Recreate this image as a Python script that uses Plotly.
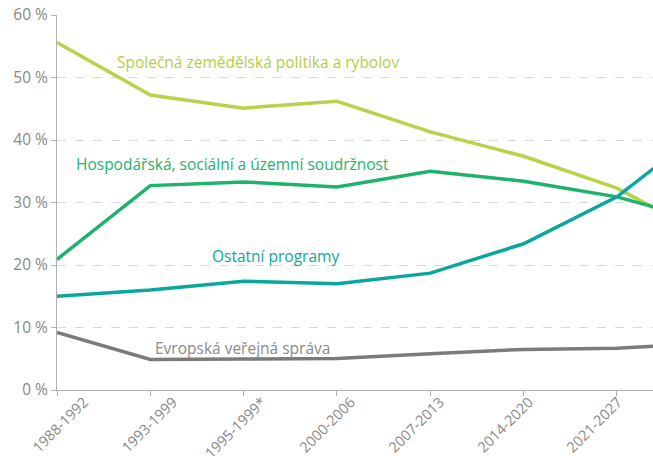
import plotly.graph_objects as go

periods = ["1988-1992", "1993-1999", "1995-1999*", "2000-2006", "2007-2013", "2014-2020", "2021-2027"]
positions = [0, 1, 2, 3, 4, 5, 6, 7]

spolecna = [55.6, 47.2, 45.1, 46.2, 41.3, 37.4, 32.3, 24.4]
hospodarska = [20.9, 32.7, 33.3, 32.5, 35.0, 33.4, 30.9, 26.8]
ostatni = [15.0, 16.0, 17.4, 17.0, 18.7, 23.4, 30.9, 42.5]
sprava = [9.2, 4.9, 4.95, 5.05, 5.8, 6.5, 6.7, 7.5]

series = [
    ("Společná zemědělská politika a rybolov", spolecna, "#b9d24a", 2.15, 52.5),
    ("Hospodářská, sociální a územní soudržnost", hospodarska, "#1db36b", 1.88, 36.2),
    ("Ostatní programy", ostatni, "#0aa89c", 2.34, 21.4),
    ("Evropská veřejná správa", sprava, "#7b7b7b", 1.99, 6.7),
]
text_colors = ["#b3cf3e", "#1db36b", "#0aa89c", "#8a8a8a"]

fig = go.Figure()
for (name, vals, color, lx, ly), tc in zip(series, text_colors):
    fig.add_trace(go.Scatter(x=positions, y=vals, mode="lines", name=name,
                             line=dict(color=color, width=3.5), showlegend=False,
                             hoverinfo="skip"))
    fig.add_annotation(x=lx, y=ly, text=name, showarrow=False, xanchor="center",
                       yanchor="middle", font=dict(size=15.5, color=tc,
                                                   family="Open Sans, sans-serif"))

# invisible trace that carries the category-label axis
fig.add_trace(go.Scatter(x=positions[:7], y=[None] * 7, xaxis="x2", yaxis="y",
                         mode="lines", showlegend=False, hoverinfo="skip"))

fig.update_layout(
    width=653, height=456,
    margin=dict(l=57, r=0, t=15, b=66),
    plot_bgcolor="white", paper_bgcolor="white",
    font=dict(family="Open Sans, sans-serif", color="#888888"),
    xaxis=dict(
        range=[0, 6.386], tickmode="array", tickvals=positions[:7], showticklabels=False,
        ticks="outside", ticklen=5, tickcolor="#b0b0b0",
        showline=True, linecolor="#b0b0b0", linewidth=1, showgrid=False, zeroline=False,
        automargin=False,
    ),
    xaxis2=dict(
        overlaying="x", side="bottom", anchor="y",
        range=[-0.303, 6.394], tickmode="array", tickvals=positions[:7], ticktext=periods,
        tickangle=-45, ticks="", showline=False, showgrid=False, zeroline=False,
        tickfont=dict(size=14.5, color="#888888"), automargin=False,
    ),
    yaxis=dict(
        range=[0, 60], tickvals=[0, 10, 20, 30, 40, 50, 60],
        ticktext=["0 %", "10 %", "20 %", "30 %", "40 %", "50 %", "60 %"],
        ticks="outside", ticklen=5, tickcolor="#b0b0b0",
        showline=True, linecolor="#b0b0b0", linewidth=1,
        showgrid=True, gridcolor="#d9d9d9", griddash="dash", gridwidth=1, zeroline=False,
        tickfont=dict(size=15.5, color="#888888"), automargin=False,
    ),
)

fig.write_html("out.html", config={"displayModeBar": False, "staticPlot": True},
               post_script="document.body.style.margin='0';document.body.style.overflow='hidden';")
